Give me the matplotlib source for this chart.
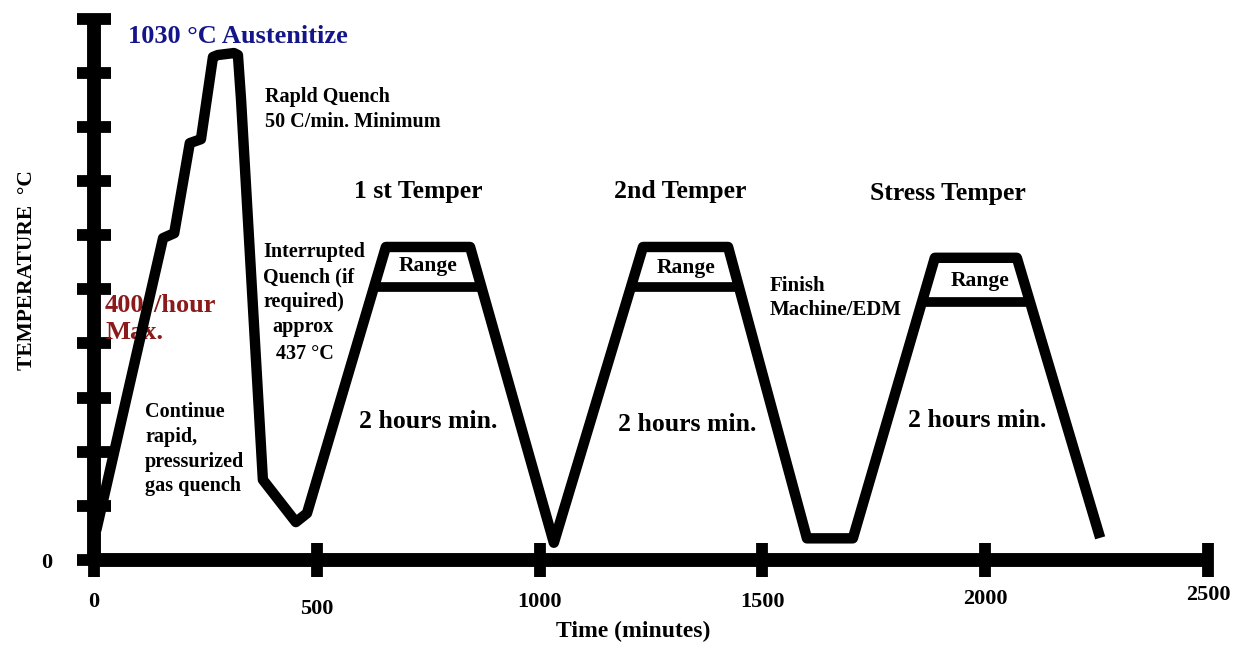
import matplotlib
matplotlib.use("Agg")
import matplotlib.pyplot as plt
import numpy as np
from matplotlib.transforms import ScaledTranslation

plt.rcParams['font.family'] = ['Liberation Serif', 'DejaVu Serif']
plt.rcParams['font.weight'] = 'bold'

# ---------------- data ----------------
time_min = [5, 155, 180, 215, 240, 267, 278, 314, 323, 330, 379, 453, 478,
            655, 844, 1032, 1232, 1423, 1600, 1703, 1887, 2071, 2258]
temp_c = [60, 654, 664, 847, 855, 1022, 1026, 1030, 1026, 935, 163, 77, 95,
          636, 636, 35, 636, 636, 44, 44, 614, 614, 45]

# temper cycles: (ramp start, top-left, top-right, ramp end) indices into the path
temper_idx = [(12, 13, 14, 15), (15, 16, 17, 18), (19, 20, 21, 22)]
range_levels = [555, 555, 524]
temper_names = ["1 st Temper", "2nd Temper", "Stress Temper"]
range_label = "Range"
hold_label = "2 hours min."

x_ticks = [0, 500, 1000, 1500, 2000, 2500]
x_tick_labels = ["0", "500", "1000", "1500", "2000", "2500"]
y_ticks = [0, 110, 220, 330, 440, 550, 660, 770, 880, 990, 1100]
y_tick_labels = ["0", "", "", "", "", "", "", "", "", "", ""]

title_aust = "1030 °C Austenitize"
quench_lines = ["Rapld Quench", "50 C/min. Minimum"]
interrupt_lines = ["Interrupted", "Quench (if", "required)"]
approx_lines = ["approx", "437 °C"]
rate_lines = ["400°/hour", "Max."]
gas_lines = ["Continue", "rapid,", "pressurized", "gas quench"]
finish_lines = ["Finish", "Machine/EDM"]
x_label = "Time (minutes)"
y_label = "TEMPERATURE  °C"

# ---------------- figure ----------------
W, H = 1241, 648
fig = plt.figure(figsize=(W / 100, H / 100), dpi=100)
x0_px, x1_px = 94, 1208
y0_px, y1_px = 560, 18.6
ax = fig.add_axes([x0_px / W, (H - y0_px) / H, (x1_px - x0_px) / W, (y0_px - y1_px) / H])
ax.set_xlim(0, 2500)
ax.set_ylim(0, 1100)

for s in ['top', 'right']:
    ax.spines[s].set_visible(False)
for s in ['left', 'bottom']:
    ax.spines[s].set_linewidth(10)
    ax.spines[s].set_color('black')
    ax.spines[s].set_capstyle('butt')

ax.set_xticks(x_ticks)
ax.set_xticklabels(x_tick_labels, fontsize=16, fontweight='bold')
ax.set_yticks(y_ticks)
ax.set_yticklabels(y_tick_labels, fontsize=16, fontweight='bold')
ax.tick_params(axis='x', direction='inout', length=24, width=8.5, pad=11, color='black')
ax.tick_params(axis='y', direction='inout', length=24, width=8.5, pad=18, color='black')

# small individual offsets of the hand-placed tick labels
offs = [0, -7, 0, 0, 3, 7]
for lab, o in zip(ax.get_xticklabels(), offs):
    lab.set_transform(lab.get_transform() + ScaledTranslation(0, o / 100, fig.dpi_scale_trans))

ax.set_xlabel(x_label, fontsize=17, fontweight='bold')
ax.xaxis.set_label_coords((633 - x0_px) / (x1_px - x0_px), -(621 - y0_px) / (y0_px - y1_px))
ax.set_ylabel(y_label, fontsize=15.5, fontweight='bold')
ax.yaxis.set_label_coords((37 - x0_px) / (x1_px - x0_px), (y0_px - 270) / (y0_px - y1_px))

# ---------------- curve ----------------
ax.plot(time_min, temp_c, color='black', lw=7.5, solid_joinstyle='round',
        solid_capstyle='butt', clip_on=False, zorder=5)

for (a, b, c, d), lev in zip(temper_idx, range_levels):
    xl = np.interp(lev, [temp_c[a], temp_c[b]], [time_min[a], time_min[b]])
    xr = np.interp(lev, [temp_c[d], temp_c[c]], [time_min[d], time_min[c]])
    ax.plot([xl, xr], [lev, lev], color='black', lw=7, solid_capstyle='butt', zorder=5)


def px(x, y):
    return (x - x0_px) / 0.4456, (y0_px - y) / 0.4922


def put(txt, xp, yp, size, ha='left', color='black'):
    x, y = px(xp, yp)
    ax.text(x, y, txt, fontsize=size, fontweight='bold', ha=ha, va='center',
            color=color, zorder=3, clip_on=False)


put(title_aust, 128, 36, 19, color='#15158a')
for t, yp in zip(quench_lines, [97, 122]):
    put(t, 265, yp, 14.5)
for t, xp in zip(temper_names, [418, 680, 948]):
    put(t, xp, 191 if t != "Stress Temper" else 193, 18.5, ha='center')
for xp, yp in zip([428, 686, 980], [266, 268, 281]):
    put(range_label, xp, yp, 15.5, ha='center')
for xp, yp in zip([428, 687, 977], [421, 424, 420]):
    put(hold_label, xp, yp, 18.5, ha='center')
for t, yp in zip(interrupt_lines, [252, 277, 302]):
    put(t, 263, yp, 14.5)
for t, xp, yp in zip(approx_lines, [303, 305], [327, 354]):
    put(t, xp, yp, 14.5, ha='center')
for t, yp in zip(rate_lines, [305, 332]):
    put(t, 105, yp, 19, color='#8b1a1a')
for t, yp in zip(gas_lines, [412, 437, 462, 486]):
    put(t, 145, yp, 14.5)
for t, yp in zip(finish_lines, [286, 310]):
    put(t, 770, yp, 15)

fig.savefig("out.png", dpi=100, facecolor='white')
